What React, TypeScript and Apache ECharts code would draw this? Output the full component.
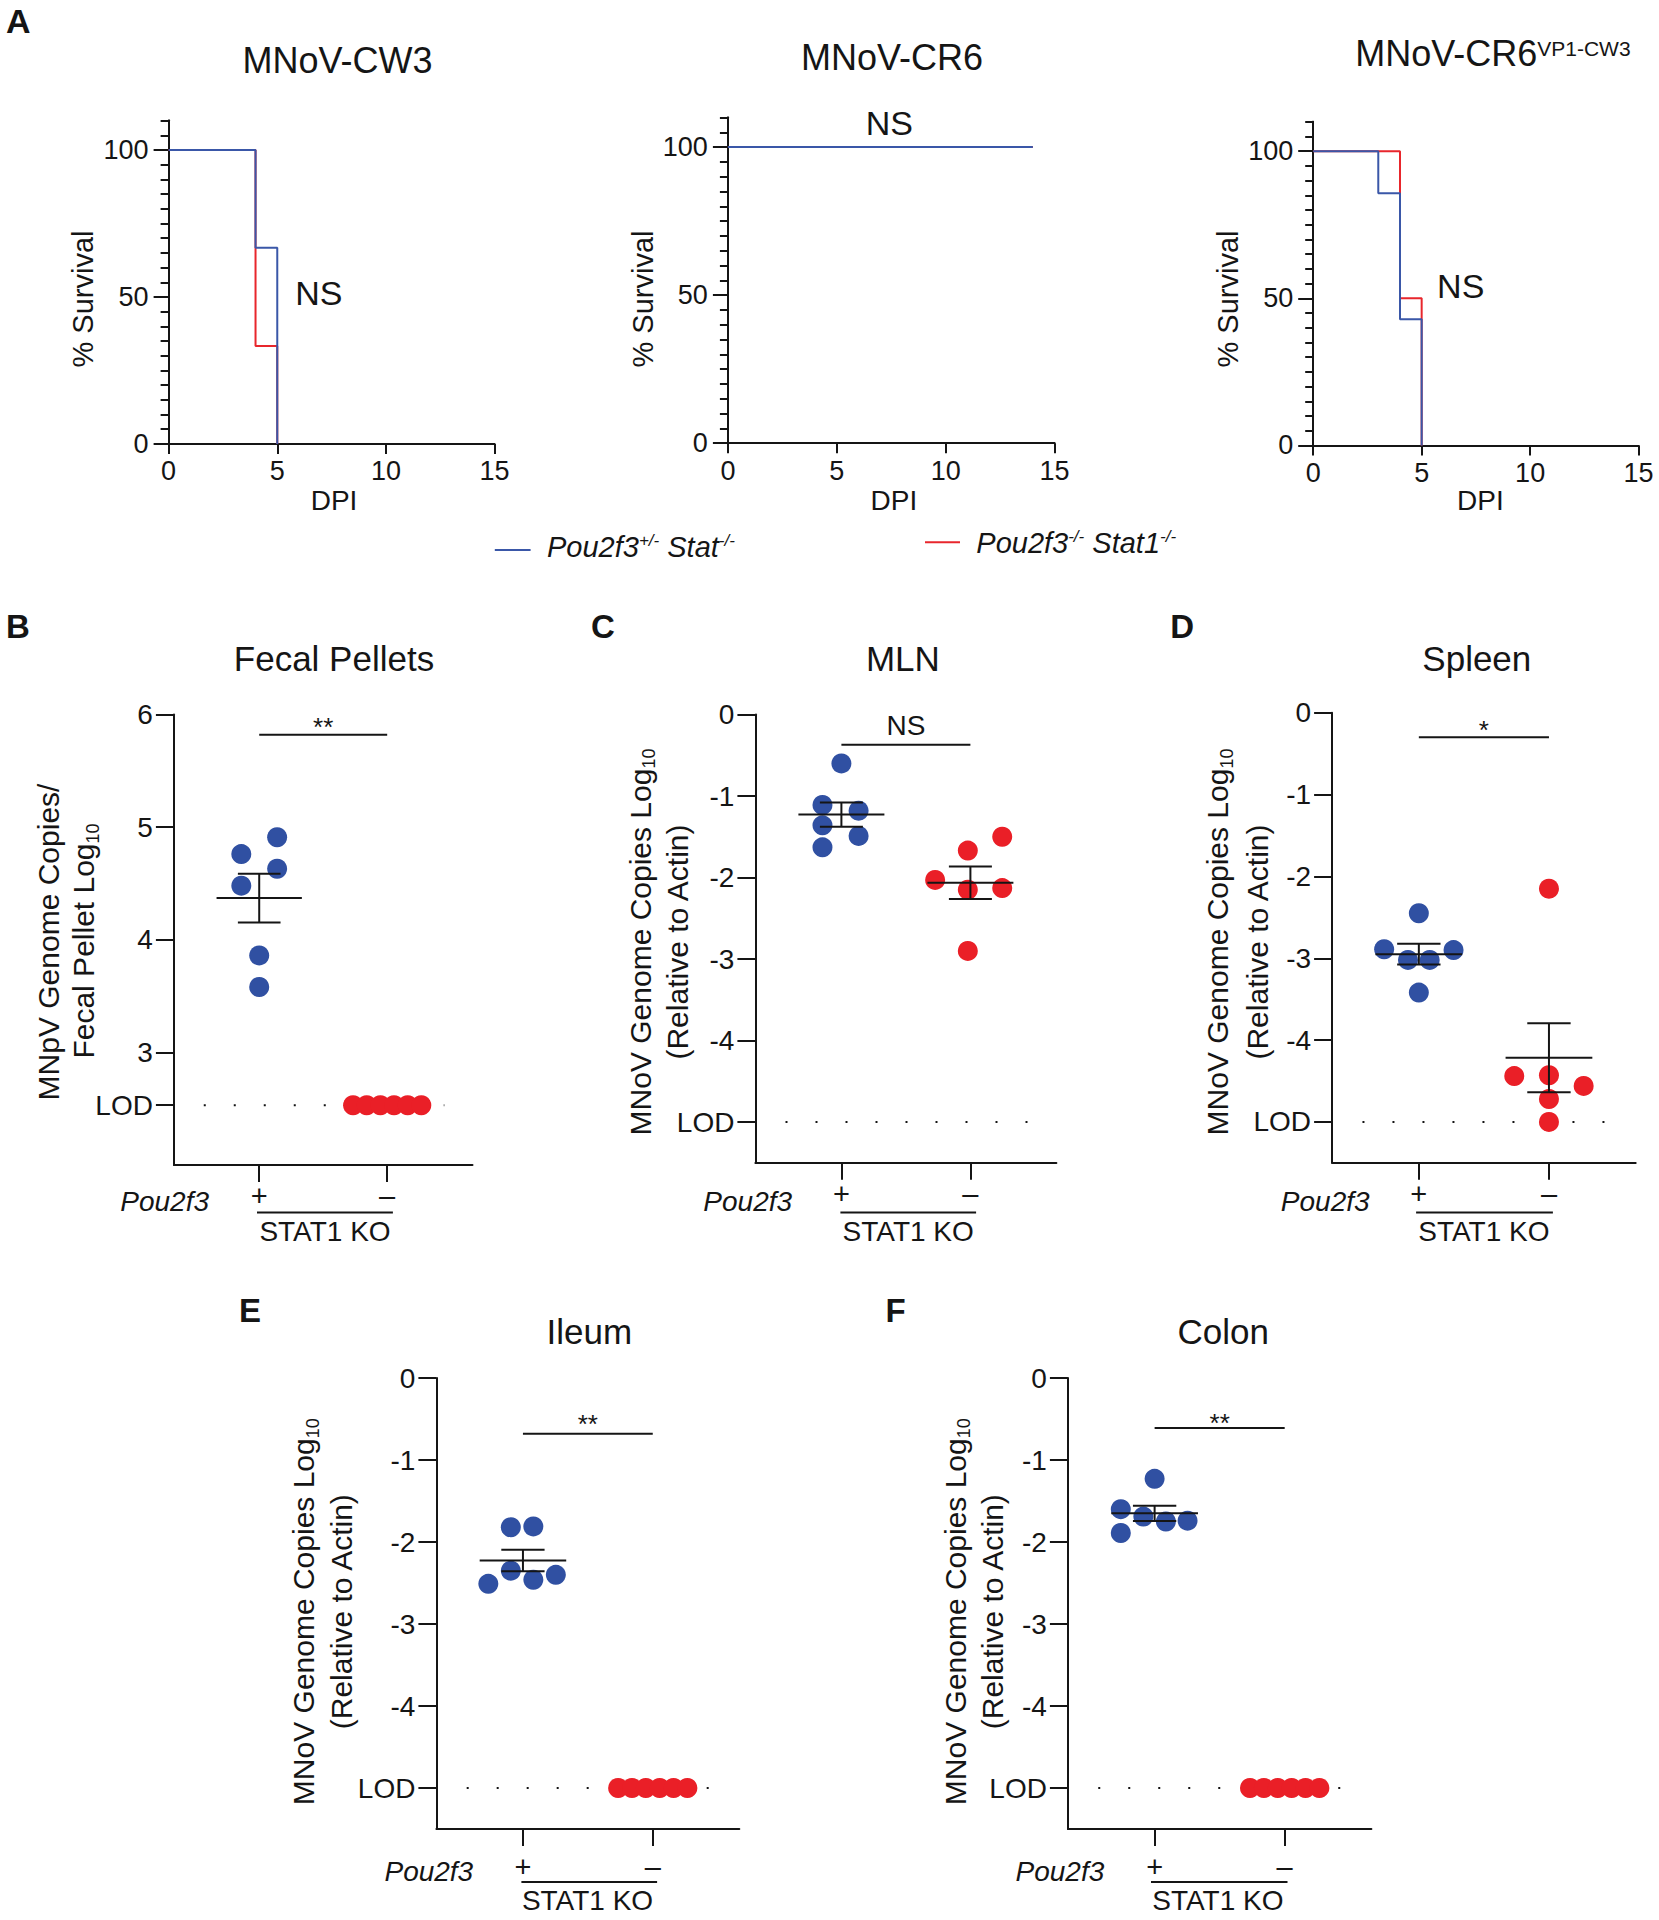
import React, { useEffect, useRef } from "react";
import * as echarts from "echarts";

const FONT = "'Liberation Sans', Arial, Helvetica, sans-serif";
const BLUE = "#3050a2";
const RED = "#ea1f27";
const LINE_BLUE = "#3a57a8";
const LINE_RED = "#e8262c";
const INK = "#151515";

// ---------- Panel A: survival (Kaplan-Meier steps) ----------
const survTicksY = [0, 50, 100];
const cw3HetTimes = [0, 4, 5];
const cw3HetSurv = [100, 66.7, 0];
const cw3KoTimes = [0, 4, 5];
const cw3KoSurv = [100, 33.3, 0];
const cr6HetTimes = [0, 14];
const cr6HetSurv = [100, 100];
const cr6KoTimes = [0, 14];
const cr6KoSurv = [100, 100];
const chimHetTimes = [0, 3, 4, 5];
const chimHetSurv = [100, 85.7, 42.9, 0];
const chimKoTimes = [0, 4, 5];
const chimKoSurv = [100, 50, 0];

// ---------- Panels B-F: genome copies ----------
const groupX = [1, 2.5];
const groupLabels = ["+", "\u2013"];

const fecalTicks = [3, 4, 5, 6];
const fecalLod = 2.53;
const fecalPlusX = [0.79, 1.21, 1.21, 0.79, 1.0, 1.0];
const fecalPlusY = [4.76, 4.91, 4.63, 4.48, 3.86, 3.58];
const fecalMinusX = [2.1, 2.26, 2.42, 2.58, 2.74, 2.9];
const fecalMinusY = [2.53, 2.53, 2.53, 2.53, 2.53, 2.53];
const fecalSigY = 5.82;

const tissueTicks = [-4, -3, -2, -1, 0];
const tissueLod = -5;

const mlnPlusX = [1.0, 0.78, 1.2, 0.78, 1.2, 0.78];
const mlnPlusY = [-0.6, -1.11, -1.18, -1.36, -1.49, -1.63];
const mlnMinusX = [2.09, 2.47, 2.87, 2.47, 2.87, 2.47];
const mlnMinusY = [-2.03, -1.67, -1.5, -2.15, -2.13, -2.9];
const mlnSigY = -0.37;

const spleenPlusX = [1.0, 0.6, 1.4, 0.875, 1.125, 1.0];
const spleenPlusY = [-2.45, -2.89, -2.9, -3.02, -3.02, -3.42];
const spleenMinusX = [2.5, 2.1, 2.5, 2.9, 2.5, 2.5];
const spleenMinusY = [-2.15, -4.44, -4.43, -4.56, -4.72, -5.0];
const spleenSigY = -0.3;

const ileumPlusX = [0.86, 1.12, 0.86, 0.6, 1.12, 1.38];
const ileumPlusY = [-1.82, -1.81, -2.35, -2.51, -2.46, -2.4];
const ileumMinusX = [2.1, 2.26, 2.42, 2.58, 2.74, 2.9];
const ileumMinusY = [-5, -5, -5, -5, -5, -5];
const ileumSigY = -0.68;

const colonPlusX = [1.0, 0.61, 0.87, 1.13, 1.38, 0.61];
const colonPlusY = [-1.23, -1.6, -1.69, -1.75, -1.74, -1.89];
const colonMinusX = [2.1, 2.26, 2.42, 2.58, 2.74, 2.9];
const colonMinusY = [-5, -5, -5, -5, -5, -5];
const colonSigY = -0.61;

const zip = (a: number[], b: number[]) => a.map((v, i) => [v, b[i]]);
const mean = (a: number[]) => a.reduce((s, v) => s + v, 0) / a.length;
const sem = (a: number[]) => {
  const m = mean(a);
  const v = a.reduce((s, x) => s + (x - m) * (x - m), 0) / (a.length - 1);
  return Math.sqrt(v / a.length);
};

const f = (size: number, style = "", weight = "") =>
  `${style} ${weight} ${size}px ${FONT}`.trim();

const txt = (
  text: string,
  x: number,
  y: number,
  size: number,
  opts: any = {}
) => ({
  type: "text",
  x,
  y,
  rotation: opts.rotation || 0,
  z: 100,
  style: {
    text,
    font: opts.font || f(size, opts.italic ? "italic" : "", opts.bold ? "bold" : ""),
    fill: INK,
    align: opts.align || "center",
    textAlign: opts.align || "center",
    verticalAlign: "middle",
    textVerticalAlign: "middle",
    lineHeight: opts.lineHeight,
    rich: opts.rich,
  },
});

const hline = (x1: number, x2: number, y: number, color = INK, w = 2) => ({
  type: "line",
  z: 100,
  shape: { x1, y1: y, x2, y2: y },
  style: { stroke: color, lineWidth: w },
});

const survPanels = [
  {
    title: "MNoV-CW3",
    grid: { left: 168.6, top: 120.6, width: 326, height: 323.3 },
    het: [cw3HetTimes, cw3HetSurv],
    ko: [cw3KoTimes, cw3KoSurv],
    titlePos: [337.5, 60.7],
    nsPos: [318.8, 292.9],
    dpiPos: [334, 500],
    yTitlePos: [82.9, 299],
  },
  {
    title: "MNoV-CR6",
    grid: { left: 727.9, top: 117.5, width: 326.7, height: 325.7 },
    het: [cr6HetTimes, cr6HetSurv],
    ko: [cr6KoTimes, cr6KoSurv],
    titlePos: [892.1, 57.1],
    nsPos: [889.3, 123.2],
    dpiPos: [893.9, 500],
    yTitlePos: [642.9, 299],
  },
  {
    title: "MNoV-CR6{sup|VP1-CW3}",
    grid: { left: 1313.2, top: 121.7, width: 325.4, height: 323.7 },
    het: [chimHetTimes, chimHetSurv],
    ko: [chimKoTimes, chimKoSurv],
    titlePos: [1492.9, 53],
    nsPos: [1460.7, 285.7],
    dpiPos: [1480.4, 500],
    yTitlePos: [1227.7, 299],
  },
];

const dotPanels = [
  {
    title: "Fecal Pellets",
    letter: "B",
    grid: { left: 173.9, top: 714.5, width: 298.6, height: 450.4 },
    yMin: 2, yMax: 6, ticks: fecalTicks, lod: fecalLod,
    plus: [fecalPlusX, fecalPlusY], minus: [fecalMinusX, fecalMinusY],
    sigY: fecalSigY, sigText: "**", sigSize: 26, sigOff: 8,
    titlePos: [334, 658.9], letterPos: [17.9, 626],
    yTitle: ["MNpV Genome Copies/", "Fecal Pellet Log{sub|10}"],
    yTitlePos: [[48.2, 942], [83.9, 941]],
    xMargin: 17,
    br: { pouRight: 209, pouY: 1201.9, x1: 257, x2: 392.9, y: 1212.4, statX: 325, statY: 1231.4 },
  },
  {
    title: "MLN",
    letter: "C",
    grid: { left: 755.4, top: 714.5, width: 301, height: 448.3 },
    yMin: -5.5, yMax: 0, ticks: tissueTicks, lod: tissueLod,
    plus: [mlnPlusX, mlnPlusY], minus: [mlnMinusX, mlnMinusY],
    sigY: mlnSigY, sigText: "NS", sigSize: 28, sigOff: 19,
    titlePos: [902.9, 658.9], letterPos: [602.9, 626],
    yTitle: ["MNoV Genome Copies Log{sub|10}", "(Relative to Actin)"],
    yTitlePos: [[640.4, 942], [677.9, 942]],
    xMargin: 17,
    br: { pouRight: 792.1, pouY: 1201.9, x1: 840.4, x2: 976.1, y: 1212.4, statX: 908.2, statY: 1231.4 },
  },
  {
    title: "Spleen",
    letter: "D",
    grid: { left: 1332.1, top: 712.8, width: 303.6, height: 450 },
    yMin: -5.5, yMax: 0, ticks: tissueTicks, lod: tissueLod,
    plus: [spleenPlusX, spleenPlusY], minus: [spleenMinusX, spleenMinusY],
    sigY: spleenSigY, sigText: "*", sigSize: 26, sigOff: 7,
    titlePos: [1476.8, 658.9], letterPos: [1182.1, 626],
    yTitle: ["MNoV Genome Copies Log{sub|10}", "(Relative to Actin)"],
    yTitlePos: [[1217.9, 942], [1257.1, 942]],
    xMargin: 17,
    br: { pouRight: 1369.6, pouY: 1201.9, x1: 1416.1, x2: 1552.9, y: 1212.4, statX: 1483.9, statY: 1231.4 },
  },
  {
    title: "Ileum",
    letter: "E",
    grid: { left: 436.4, top: 1378, width: 302.9, height: 451 },
    yMin: -5.5, yMax: 0, ticks: tissueTicks, lod: tissueLod,
    plus: [ileumPlusX, ileumPlusY], minus: [ileumMinusX, ileumMinusY],
    sigY: ileumSigY, sigText: "**", sigSize: 26, sigOff: 10,
    titlePos: [589.3, 1331], letterPos: [250, 1310.6],
    yTitle: ["MNoV Genome Copies Log{sub|10}", "(Relative to Actin)"],
    yTitlePos: [[303.6, 1611.7], [341.1, 1611.7]],
    xMargin: 23,
    br: { pouRight: 473.2, pouY: 1871.8, x1: 521.4, x2: 657.1, y: 1882, statX: 587.5, statY: 1900.4 },
  },
  {
    title: "Colon",
    letter: "F",
    grid: { left: 1067.9, top: 1378, width: 303.5, height: 451 },
    yMin: -5.5, yMax: 0, ticks: tissueTicks, lod: tissueLod,
    plus: [colonPlusX, colonPlusY], minus: [colonMinusX, colonMinusY],
    sigY: colonSigY, sigText: "**", sigSize: 26, sigOff: 5,
    titlePos: [1223.2, 1331], letterPos: [895.7, 1310.6],
    yTitle: ["MNoV Genome Copies Log{sub|10}", "(Relative to Actin)"],
    yTitlePos: [[955.4, 1611.7], [992.9, 1611.7]],
    xMargin: 23,
    br: { pouRight: 1104.3, pouY: 1871.8, x1: 1151, x2: 1287.5, y: 1882, statX: 1217.9, statY: 1900.4 },
  },
];

const axisLine = () => ({ show: true, onZero: false, lineStyle: { color: INK, width: 2 } });
const tickStyle = () => ({ color: INK, width: 2 });

function buildOption() {
  const grids: any[] = [];
  const xAxes: any[] = [];
  const yAxes: any[] = [];
  const series: any[] = [];
  const graphics: any[] = [];

  survPanels.forEach((p) => {
    const gi = grids.length;
    grids.push({ ...p.grid, containLabel: false, outerBoundsMode: "none" });
    const xi = xAxes.length;
    xAxes.push({
      type: "value", gridIndex: gi, min: 0, max: 15, interval: 5,
      axisLine: axisLine(),
      axisTick: { show: true, length: 10, lineStyle: tickStyle() },
      axisLabel: { fontSize: 27, color: INK, fontFamily: FONT, margin: 14 },
      splitLine: { show: false },
    });
    const yi = yAxes.length;
    yAxes.push({
      type: "value", gridIndex: gi, position: "left", min: 0, max: 110,
      axisLine: axisLine(),
      axisTick: { show: true, length: 15, customValues: survTicksY, lineStyle: tickStyle() },
      axisLabel: {
        customValues: survTicksY, fontSize: 27, color: INK, fontFamily: FONT, margin: 20,
        formatter: (v: number) => (survTicksY.includes(v) ? String(v) : ""),
      },
      splitLine: { show: false },
    });
    yAxes.push({
      type: "value", gridIndex: gi, position: "left", min: 0, max: 110, interval: 5,
      axisLine: axisLine(),
      axisTick: { show: true, length: 8, lineStyle: tickStyle() },
      axisLabel: { show: false },
      splitLine: { show: false },
    });
    series.push({
      type: "line", xAxisIndex: xi, yAxisIndex: yi, step: "end", symbol: "none",
      data: zip(p.ko[0], p.ko[1]), lineStyle: { color: LINE_RED, width: 2 }, z: 3, silent: true,
    });
    series.push({
      type: "line", xAxisIndex: xi, yAxisIndex: yi, step: "end", symbol: "none",
      data: zip(p.het[0], p.het[1]), lineStyle: { color: LINE_BLUE, width: 2 }, z: 4, silent: true,
    });
    graphics.push(
      txt(p.title, p.titlePos[0], p.titlePos[1], 36, {
        lineHeight: 30,
        rich: { sup: { font: f(21), verticalAlign: "top", fill: INK } },
      })
    );
    graphics.push(txt("NS", p.nsPos[0], p.nsPos[1], 34));
    graphics.push(txt("DPI", p.dpiPos[0], p.dpiPos[1], 28));
    graphics.push(txt("% Survival", p.yTitlePos[0], p.yTitlePos[1], 29, { rotation: Math.PI / 2 }));
  });

  graphics.push(txt("A", 18.4, 21, 34, { bold: true }));
  // legend
  graphics.push(hline(494.8, 530.6, 550, LINE_BLUE, 2));
  graphics.push(
    txt("{i|Pou2f3}{s|+/-}{i| Stat}{s|-/-}", 547, 546.7, 29, {
      align: "left",
      lineHeight: 30,
      font: f(29, "italic"),
      rich: {
        i: { font: f(29, "italic"), fill: INK },
        s: { font: f(17, "italic"), verticalAlign: "top", fill: INK },
      },
    })
  );
  graphics.push(hline(925, 960, 542.3, LINE_RED, 2));
  graphics.push(
    txt("{i|Pou2f3}{s|-/-}{i| Stat1}{s|-/-}", 976.3, 542.7, 29, {
      align: "left",
      lineHeight: 30,
      font: f(29, "italic"),
      rich: {
        i: { font: f(29, "italic"), fill: INK },
        s: { font: f(17, "italic"), verticalAlign: "top", fill: INK },
      },
    })
  );

  dotPanels.forEach((p) => {
    const gi = grids.length;
    grids.push({ ...p.grid, containLabel: false, outerBoundsMode: "none" });
    const xi = xAxes.length;
    xAxes.push({
      type: "value", gridIndex: gi, min: 0, max: 3.5,
      axisLine: axisLine(),
      axisTick: { show: true, length: 17, customValues: groupX, lineStyle: tickStyle() },
      axisLabel: {
        customValues: groupX, fontSize: 29, color: INK, fontFamily: FONT, margin: p.xMargin,
        formatter: (v: number) => {
          const i = groupX.indexOf(v);
          return i >= 0 ? groupLabels[i] : "";
        },
      },
      splitLine: { show: false },
    });
    const yi = yAxes.length;
    const yVals = [p.lod, ...p.ticks];
    yAxes.push({
      type: "value", gridIndex: gi, position: "left", min: p.yMin, max: p.yMax,
      axisLine: axisLine(),
      axisTick: { show: true, length: 18, customValues: yVals, lineStyle: tickStyle() },
      axisLabel: {
        customValues: yVals, fontSize: 28, color: INK, fontFamily: FONT, margin: 21,
        formatter: (v: number) =>
          Math.abs(v - p.lod) < 1e-9 ? "LOD" : p.ticks.includes(v) ? String(v) : "",
      },
      splitLine: { show: false },
    });
    // LOD dotted line
    series.push({
      type: "line", xAxisIndex: xi, yAxisIndex: yi, symbol: "none", silent: true, z: 1,
      data: [[0.35, p.lod], [3.17, p.lod]],
      lineStyle: { color: INK, width: 2, type: [2, 28] },
    });
    series.push({
      type: "scatter", xAxisIndex: xi, yAxisIndex: yi, symbolSize: 20, z: 2, silent: true,
      itemStyle: { color: BLUE, opacity: 1 },
      data: zip(p.plus[0], p.plus[1]),
    });
    series.push({
      type: "scatter", xAxisIndex: xi, yAxisIndex: yi, symbolSize: 20, z: 2, silent: true,
      itemStyle: { color: RED, opacity: 1 },
      data: zip(p.minus[0], p.minus[1]),
    });
    // mean ± SEM
    const bars: number[][] = [];
    [p.plus[1], p.minus[1]].forEach((vals, gIdx) => {
      const s = sem(vals);
      if (s > 1e-9) {
        const m = mean(vals);
        bars.push([groupX[gIdx], m, m - s, m + s]);
      }
    });
    series.push({
      type: "custom", xAxisIndex: xi, yAxisIndex: yi, coordinateSystem: "cartesian2d",
      z: 5, silent: true, data: bars,
      renderItem: (params: any, api: any) => {
        const xc = api.value(0), m = api.value(1), lo = api.value(2), hi = api.value(3);
        const st = { stroke: INK, lineWidth: 2 };
        const seg = (ax: number, ay: number, bx: number, by: number) => {
          const a = api.coord([ax, ay]);
          const b = api.coord([bx, by]);
          return { type: "line", shape: { x1: a[0], y1: a[1], x2: b[0], y2: b[1] }, style: st };
        };
        return {
          type: "group",
          children: [
            seg(xc - 0.5, m, xc + 0.5, m),
            seg(xc, lo, xc, hi),
            seg(xc - 0.25, hi, xc + 0.25, hi),
            seg(xc - 0.25, lo, xc + 0.25, lo),
          ],
        };
      },
    });
    // significance bar
    series.push({
      type: "custom", xAxisIndex: xi, yAxisIndex: yi, coordinateSystem: "cartesian2d",
      z: 5, silent: true, data: [[groupX[0], groupX[1], p.sigY]],
      renderItem: (params: any, api: any) => {
        const a = api.coord([api.value(0), api.value(2)]);
        const b = api.coord([api.value(1), api.value(2)]);
        return {
          type: "group",
          children: [
            { type: "line", shape: { x1: a[0], y1: a[1], x2: b[0], y2: b[1] }, style: { stroke: INK, lineWidth: 2 } },
            {
              type: "text", x: (a[0] + b[0]) / 2, y: a[1] - p.sigOff,
              style: {
                text: p.sigText, font: f(p.sigSize), fill: INK,
                align: "center", textAlign: "center", verticalAlign: "middle", textVerticalAlign: "middle",
              },
            },
          ],
        };
      },
    });

    graphics.push(txt(p.title, p.titlePos[0], p.titlePos[1], 35));
    graphics.push(txt(p.letter, p.letterPos[0], p.letterPos[1], 33, { bold: true }));
    p.yTitle.forEach((t, i) => {
      graphics.push(
        txt(t, p.yTitlePos[i][0], p.yTitlePos[i][1], 30, {
          rotation: Math.PI / 2,
          lineHeight: 36,
          rich: { sub: { font: f(18), verticalAlign: "bottom", fill: INK } },
        })
      );
    });
    graphics.push(txt("Pou2f3", p.br.pouRight, p.br.pouY, 28, { italic: true, align: "right" }));
    graphics.push(hline(p.br.x1, p.br.x2, p.br.y, INK, 2));
    graphics.push(txt("STAT1 KO", p.br.statX, p.br.statY, 28));
  });

  return {
    animation: false,
    backgroundColor: "#ffffff",
    textStyle: { fontFamily: FONT, color: INK },
    grid: grids,
    xAxis: xAxes,
    yAxis: yAxes,
    series,
    graphic: { elements: graphics },
  };
}

export default function App() {
  const ref = useRef<HTMLDivElement>(null);
  useEffect(() => {
    if (!ref.current) return;
    const chart = echarts.init(ref.current, null, { renderer: "svg", width: 1659, height: 1920 });
    chart.setOption(buildOption() as any);
    return () => chart.dispose();
  }, []);
  return (
    <div
      ref={ref}
      style={{ position: "absolute", left: 0, top: 0, width: 1659, height: 1920, background: "#fff" }}
    />
  );
}
